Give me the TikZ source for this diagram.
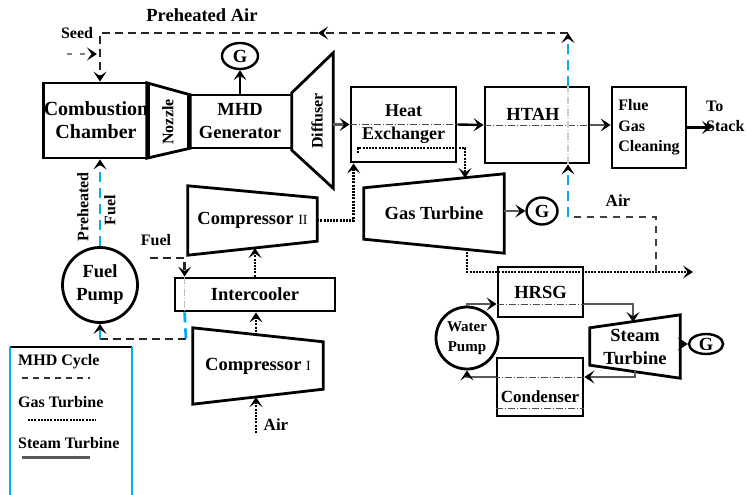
\documentclass[tikz,border=0pt]{standalone}
\usepackage{fontspec}
\setmainfont{Liberation Serif}
\usetikzlibrary{arrows.meta, positioning, shapes.geometric, calc}

\begin{document}
\begin{tikzpicture}[x=1pt, y=-1pt,
        arr/.style={-{Stealth[length=10pt,width=13pt,inset=4.5pt,color=black]}},
        box/.style={draw, line width=2.8pt, align=center, inner sep=0pt,
                    font=\bfseries\fontsize{18.5}{23}\selectfont},
        shell/.style={inner sep=0pt, align=center, font=\bfseries\fontsize{18.5}{23}\selectfont},
        trap/.style={line width=2.8pt, line join=miter},
        lbl/.style={inner sep=0pt, align=center, font=\bfseries\fontsize{16}{20}\selectfont},
        gen/.style={draw, ellipse, line width=2.4pt, inner sep=0pt,
                    font=\bfseries\fontsize{18.5}{20}\selectfont},
        mhdl/.style={line width=2.8pt, dash pattern=on 8pt off 5pt, black!85},
        gasl/.style={line width=2.6pt, dash pattern=on 2pt off 1.2pt},
        steaml/.style={line width=2.4pt, gray!70!black},
        hotl/.style={line width=1pt, dash pattern=on 7pt off 2pt on 1pt off 2pt, black!70},
        fuell/.style={line width=2.8pt, cyan, dash pattern=on 10pt off 6pt},
        solidl/.style={line width=2.4pt},
    ]
    \useasboundingbox (0,0) rectangle (747,495);

    % ---- MHD topping cycle ----
    \node[box, minimum width=102pt, minimum height=75pt,
          font=\bfseries\fontsize{20}{23}\selectfont] (cc) at (96,120.5) {Combustion\\Chamber};
    \node[shell, minimum width=43pt, minimum height=75pt] (noz) at (168.5,120.5) {};
    \draw[trap] (noz.north west) -- ($(noz.north east)+(0,12)$) -- ($(noz.south east)+(0,-10)$) -- (noz.south west) -- cycle;
    \node[lbl, rotate=90] (nozlbl) at (168,122) {Nozzle};

    \node[box, minimum width=104pt, minimum height=53pt] (mhd) at (240,121.5) {MHD\\Generator};
    \node[gen, minimum width=36pt, minimum height=26pt] (g1) at (240,56) {G};
    \draw[solidl,arr] (mhd.north) -- (g1.south);

    \node[shell, minimum width=41pt, minimum height=135pt] (dif) at (312.5,120.5) {};
    \draw[trap] ($(dif.north west)+(0,40)$) -- (dif.north east) -- (dif.south east) -- ($(dif.south west)+(0,-38)$) -- cycle;
    \node[lbl, rotate=90] (diflbl) at (317,121) {Diffuser};

    \node[box, minimum width=105pt, minimum height=75pt,
          font=\bfseries\fontsize{18}{23}\selectfont] (hx) at (403.5,124.5) {Heat\\Exchanger};
    \node[box, minimum width=104pt, minimum height=76pt] (htah) at (537,125) {};
    \node[shell] (htahlbl) at (533,114) {HTAH};
    \node[box, minimum width=74pt, minimum height=81pt, align=left,
          font=\bfseries\fontsize{16}{20.5}\selectfont] (fgc) at (649,127.5) {Flue\\Gas\\Cleaning};
    \coordinate (stack) at (712,127.5);
    \node[lbl, align=left, anchor=north west] (stacklbl) at (706,101) {To\\Stack};

    \draw[steaml,arr] (dif.east |- hx.west) -- (hx.west);
    \draw[hotl] (hx.west) -- (hx.east);
    \draw[solidl,arr] (hx.east) -- (htah.west);
    \draw[hotl] (htah.west) -- (htah.east);
    \draw[steaml,arr] (htah.east) -- (fgc.west |- htah.east);
    \draw[solidl,arr] (fgc.east) -- (stack);

    % ---- Preheated air and seed ----
    \coordinate (pa) at (568,33);
    \coordinate (pamid) at (318,33);
    \node[shell] (palbl) at (202,15) {Preheated Air};
    \draw[fuell,arr] (htah.north -| pa) -- (pa);
    \draw[mhdl,arr] (pa) -- (pamid);
    \draw[mhdl,arr] (pamid) -| ([xshift=4pt]cc.north);
    \draw[hotl, gray!40, line width=2pt] (htah.south -| pa) -- (htah.north -| pa);

    \coordinate (seedsrc) at (67,54);
    \coordinate (seedin) at (97,54);
    \node[lbl] (seedlbl) at (77,33) {Seed};
    \draw[gray, line width=2.4pt, dash pattern=on 5pt off 8pt, arr] (seedsrc) -- (seedin);

    % ---- Gas turbine cycle ----
    \node[shell, minimum width=129pt, minimum height=69pt] (c2) at (252.5,220.5)
        {Compressor {\mdseries\fontsize{14}{14}\selectfont II}};
    \draw[trap] (c2.north west) -- ($(c2.north east)+(0,12)$) -- ($(c2.south east)+(0,-14)$) -- (c2.south west) -- cycle;

    \node[shell, minimum width=140pt, minimum height=79pt] (gt) at (434,213.5) {Gas Turbine};
    \draw[trap] ($(gt.north west)+(0,14)$) -- (gt.north east) -- (gt.south east) -- ($(gt.south west)+(0,-14)$) -- cycle;
    \node[gen, minimum width=31pt, minimum height=27pt] (g2) at (542,211) {G};
    \draw[steaml,arr] (gt.east |- g2.west) -- (g2.west);

    \node[box, minimum width=160pt, minimum height=33pt] (ic) at (255,294.5) {Intercooler};
    \node[shell, minimum width=130pt, minimum height=76pt] (c1) at (258,366)
        {Compressor {\mdseries\fontsize{14}{14}\selectfont I}};
    \draw[trap] (c1.north west) -- ($(c1.north east)+(0,14)$) -- ($(c1.south east)+(0,-15)$) -- (c1.south west) -- cycle;

    \coordinate (airin) at (256,433);
    \coordinate (c1in) at (256,397);
    \coordinate (c1out) at (256,335);
    \coordinate (c2in) at (255,248);
    \node[shell, font=\bfseries\fontsize{17}{20}\selectfont] (air2lbl) at (276,425) {Air};
    \draw[gasl,arr] (airin) -- (c1in);
    \draw[gasl,arr] (c1out) -- (c1out |- ic.south);
    \draw[gasl,arr] (ic.north) -- (c2in);
    \draw[gasl,arr] (c2.east) -| ([xshift=4pt]hx.south west);

    \coordinate (hxg) at (358,153);
    \coordinate (gtin) at (465,178);
    \draw[gasl,arr] (hxg) -- ++(0,-5) -| (gtin);

    \coordinate (gtout) at (467,249);
    \coordinate (exh) at (693,272);
    \draw[gasl,arr] (gtout) |- (exh);

    \coordinate (airx) at (656,272);
    \coordinate (airc) at (568,217);
    \node[shell, font=\bfseries\fontsize{17}{20}\selectfont] (airlbl) at (618,201) {Air};
    \draw[black!75, line width=1.8pt, dash pattern=on 7pt off 6pt] (airx) |- (airc);
    \draw[fuell,arr] (airc) -- (htah.south -| airc);

    % ---- Fuel supply ----
    \node[box, circle, minimum size=75pt] (fp) at (100,285) {Fuel\\Pump};
    \coordinate (fuelsrc) at (150,258);
    \coordinate (fbend) at (186,339);
    \node[lbl] (fuellbl) at (156,240) {Fuel};
    \draw[mhdl,arr] (fuelsrc) -| ([xshift=11pt]ic.north west);
    \draw[hotl, gray!50] ([xshift=11pt]ic.north west) -- ([xshift=11pt]ic.south west);
    \draw[fuell] ([xshift=11pt]ic.south west) -- (fbend);
    \draw[mhdl] (fbend) -- (fbend -| fp.south);
    \draw[fuell,arr] (fbend -| fp.south) -- (fp.south);
    \draw[fuell,arr] (fp.north) -- (fp.north |- cc.south);
    \node[lbl, rotate=90] (phlbl) at (83,207) {Preheated};
    \node[lbl, rotate=90] (phfuel) at (110,210) {Fuel};

    % ---- Steam bottoming cycle ----
    \node[box, minimum width=85pt, minimum height=50pt] (hrsg) at (540.5,292) {HRSG};
    \node[box, circle, minimum size=62pt, font=\bfseries\fontsize{15}{20}\selectfont] (wp) at (467,338) {Water\\Pump};
    \node[shell, minimum width=90pt, minimum height=63pt] (st) at (635,346.5) {Steam\\Turbine};
    \draw[trap] ($(st.north west)+(0,13)$) -- (st.north east) -- (st.south east) -- ($(st.south west)+(0,-13)$) -- cycle;
    \node[gen, minimum width=34pt, minimum height=20pt] (g3) at (706,344) {G};
    \node[box, minimum width=86pt, minimum height=58pt] (cond) at (540,387) {};
    \node[shell, font=\bfseries\fontsize{17}{20}\selectfont] (condlbl) at (540,397) {Condenser};

    \coordinate (stin) at (633,322);
    \coordinate (stout) at (635,371);
    \draw[steaml,arr] (wp.north) |- ([yshift=-12pt]hrsg.west);
    \draw[hotl] ([yshift=-12pt]hrsg.west) -- ([yshift=-12pt]hrsg.east);
    \draw[steaml,arr] ([yshift=-12pt]hrsg.east) -| (stin);
    \draw[solidl,arr] (st.east |- g3.west) -- (g3.west);
    \draw[steaml,arr] (stout) |- ([yshift=10pt]cond.east);
    \draw[hotl] ([yshift=10pt]cond.east) -- ([yshift=10pt]cond.west);
    \draw[steaml,arr] ([yshift=10pt]cond.west) -| (wp.south);
    \draw[hotl] ([yshift=-21pt]cond.west) -- ([yshift=-21pt]cond.east);

    % ---- Legend ----
    \node[minimum width=122pt, minimum height=153pt, inner sep=0pt] (legend) at (71,423.5) {};
    \draw[line width=2.4pt] (legend.north west) -- (legend.north east);
    \draw[cyan, line width=1.8pt] (legend.north west) -- (legend.south west);
    \draw[cyan, line width=1.8pt] (legend.north east) -- (legend.south east);
    \node[lbl, anchor=west] (lg1) at (18,362) {MHD Cycle};
    \node[lbl, anchor=west] (lg2) at (18,402) {Gas Turbine};
    \node[lbl, anchor=west] (lg3) at (18,443) {Steam Turbine};
    \draw[black!80, line width=1.8pt, dash pattern=on 6pt off 5pt] ([shift={(4,16)}]lg1.west) -- ++(68,0);
    \draw[gasl, line width=1.8pt] ([shift={(10,18)}]lg2.west) -- ++(68,0);
    \draw[steaml, line width=3pt] ([shift={(4,14)}]lg3.west) -- ++(68,0);

\end{tikzpicture}
\end{document}
